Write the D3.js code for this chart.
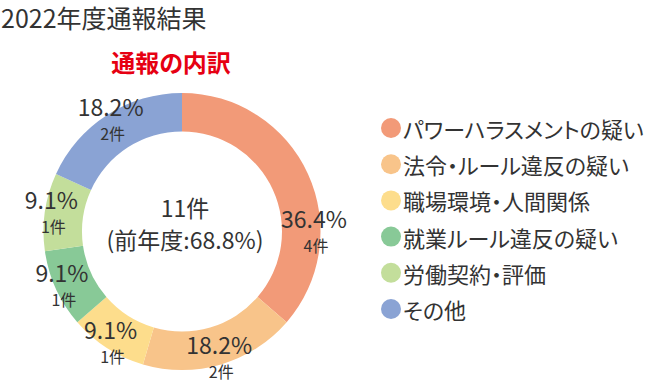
<!DOCTYPE html>
<html>
<head>
<meta charset="utf-8">
<title>2022年度通報結果</title>
<script src="https://cdn.jsdelivr.net/npm/d3@7"></script>
<style>
  body { margin: 0; background: #fff; }
  svg text { font-family: "Noto Sans CJK JP", "Noto Sans", sans-serif; fill: #333; font-feature-settings: "palt"; }
</style>
</head>
<body>
<div id="chart"></div>
<script>
// ---- data ----
const categories = ["パワーハラスメントの疑い", "法令・ルール違反の疑い", "職場環境・人間関係",
                    "就業ルール違反の疑い", "労働契約・評価", "その他"];
const counts = [4, 2, 1, 1, 1, 2];
const colors = ["#f29a78", "#f8c48a", "#fddd8c", "#88c997", "#c3de9b", "#8aa3d4"];
const totalLabel = "11件";
const prevLabel = "(前年度:68.8%)";

// ---- svg ----
const width = 671, height = 384;
const svg = d3.select("#chart").append("svg")
    .attr("width", width)
    .attr("height", height);

svg.append("text")
    .attr("x", 1).attr("y", 17)
    .attr("dominant-baseline", "central")
    .style("font-size", "25px")
    .text("2022年度通報結果");

svg.append("text")
    .attr("x", 171).attr("y", 61)
    .attr("text-anchor", "middle")
    .attr("dominant-baseline", "central")
    .style("font-size", "24px")
    .style("font-weight", "bold")
    .style("fill", "#e60012")
    .text("通報の内訳");

// ---- donut ----
const cx = 182, cy = 231.5, rOut = 138.5, rIn = 100;
const g = svg.append("g").attr("transform", "translate(" + cx + "," + cy + ")");

const pie = d3.pie().sort(null).value(d => d);
const arcs = pie(counts);
const arc = d3.arc().innerRadius(rIn).outerRadius(rOut);
const total = d3.sum(counts);
const pct = d3.format(".1%");

g.selectAll("path.slice")
    .data(arcs)
    .enter().append("path")
    .attr("class", "slice")
    .attr("d", arc)
    .attr("fill", (d, i) => colors[i]);

// labels sit around the ring; the first one was moved to the right side
const labelR = 132;
const lab = g.selectAll("g.lab")
    .data(arcs)
    .enter().append("g")
    .attr("class", "lab")
    .attr("transform", function(d, i) {
        const a = i === 0 ? Math.PI / 2 : (d.startAngle + d.endAngle) / 2;
        return "translate(" + (labelR * Math.sin(a)) + "," + (-labelR * Math.cos(a)) + ")";
    });

lab.append("text")
    .attr("text-anchor", "middle")
    .attr("dominant-baseline", "central")
    .attr("y", -14)
    .style("font-size", "23px")
    .text(d => pct(d.data / total));

lab.append("text")
    .attr("text-anchor", "middle")
    .attr("dominant-baseline", "central")
    .attr("x", 2)
    .attr("y", 13)
    .style("font-size", "16px")
    .text(d => d.data + "件");

g.append("text")
    .attr("x", 3).attr("y", -25)
    .attr("text-anchor", "middle")
    .attr("dominant-baseline", "central")
    .style("font-size", "23px")
    .text(totalLabel);

g.append("text")
    .attr("x", 3).attr("y", 7)
    .attr("text-anchor", "middle")
    .attr("dominant-baseline", "central")
    .style("font-size", "23px")
    .text(prevLabel);

// ---- legend ----
const rowY = d3.scalePoint().domain(categories).range([128, 309]);
const legend = svg.selectAll("g.leg")
    .data(categories)
    .enter().append("g")
    .attr("class", "leg")
    .attr("transform", d => "translate(391," + rowY(d) + ")");

legend.append("circle")
    .attr("r", 10)
    .attr("fill", (d, i) => colors[i]);

legend.append("text")
    .attr("x", 12)
    .attr("dominant-baseline", "central")
    .style("font-size", "22px")
    .text(d => d);
</script>
</body>
</html>
